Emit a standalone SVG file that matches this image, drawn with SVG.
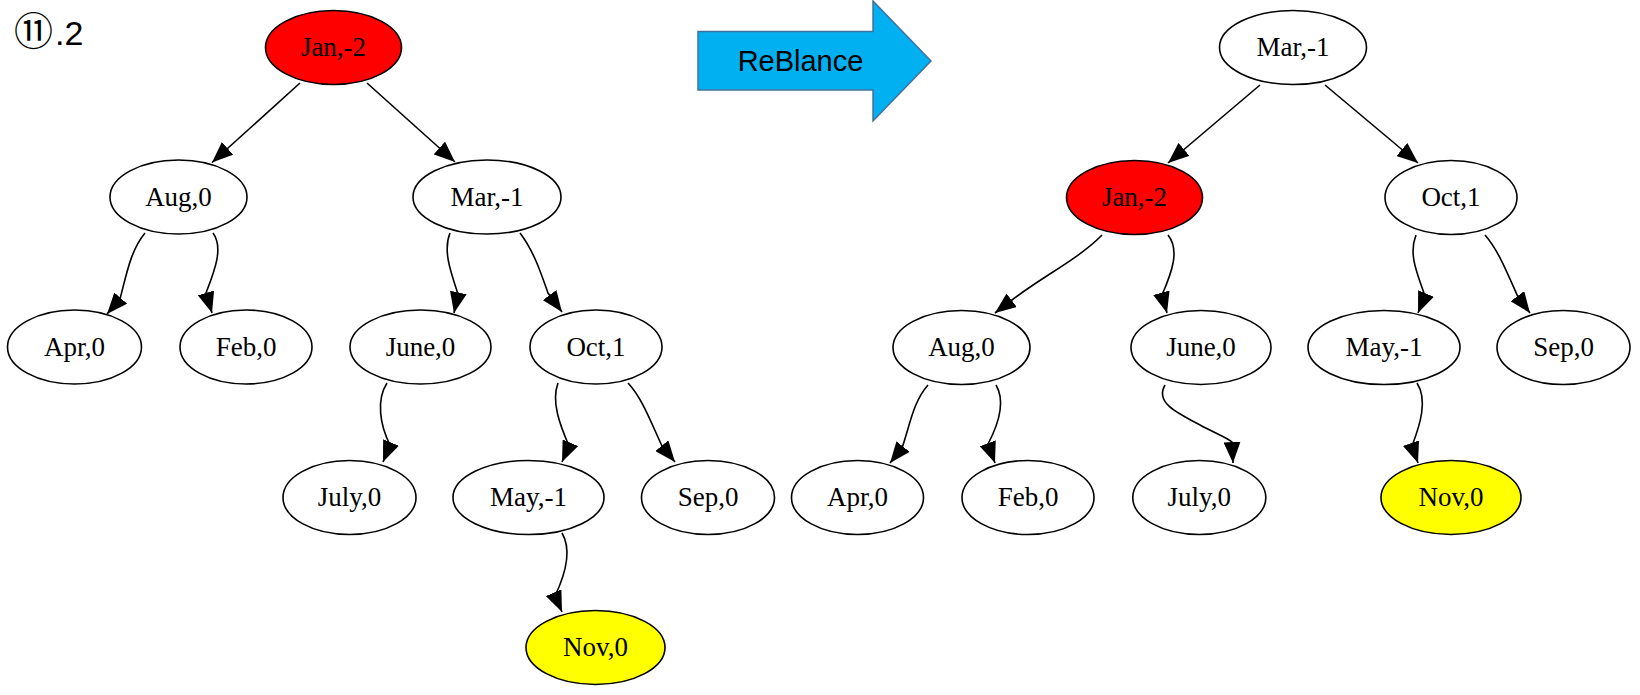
<svg xmlns="http://www.w3.org/2000/svg" width="1640" height="695" viewBox="0 0 1640 695">
<style>
.n ellipse{fill:#fff;stroke:#000;stroke-width:1.6}
.n.red ellipse{fill:#ff0000}
.n.yel ellipse{fill:#ffff00}
.n text{font-family:"Liberation Serif","Times New Roman",serif;font-size:27px;fill:#000;text-anchor:middle}
.e path{fill:none;stroke:#000;stroke-width:1.6;marker-end:url(#ah)}
</style>
<defs>
<marker id="ah" markerUnits="userSpaceOnUse" viewBox="0 0 21 17" markerWidth="21" markerHeight="17" refX="21" refY="8.5" orient="auto">
<path d="M0,0 L21,8.5 L0,17 z" fill="#000"/>
</marker>
</defs>
<rect width="1640" height="695" fill="#fff"/>
<text x="14" y="45" font-family="Liberation Sans, Noto Sans CJK SC, sans-serif" font-size="34" fill="#000"><tspan font-size="39">⑪</tspan><tspan dx="2">.2</tspan></text>
<g id="reblance">
<path d="M698,31.5 L873,31.5 L873,1 L931,61 L873,121 L873,90 L698,90 Z" fill="#00b0f0" stroke="#41719c" stroke-width="1.5"/>
<text x="800.5" y="71" font-family="Liberation Sans, Arial, sans-serif" font-size="29" fill="#000" text-anchor="middle">ReBlance</text>
</g>
<g id="connectors" class="e">
<path d="M300,83 L212,162.5"/>
<path d="M367,83 L455,162"/>
<path d="M145,233 C131,250 127,272 120,299 L107,314"/>
<path d="M213,233 C224,248 214,272 206,293 L212,313"/>
<path d="M450,233 C443,250 450,270 458,294 L454,313"/>
<path d="M520,233 C533,250 540,270 548,293 L562,312"/>
<path d="M387,383 C376,400 380,425 390,445 L383,462"/>
<path d="M558,383 C551,402 560,425 569,446 L562,462"/>
<path d="M628,383 C642,398 650,420 662,446 L675,462"/>
<path d="M562,533 C572,550 565,575 555,596 L562,612"/>
<path d="M1260,85 L1168,163"/>
<path d="M1325,85 L1418,163"/>
<path d="M1102,235 C1080,258 1040,278 1012,300 L995,313"/>
<path d="M1168,235 C1180,250 1172,272 1162,295 L1167,313"/>
<path d="M1416,235 C1408,255 1418,275 1425,296 L1418,313"/>
<path d="M1485,235 C1498,250 1506,270 1518,297 L1530,313"/>
<path d="M928,385 C913,402 910,425 902,448 L890,463"/>
<path d="M996,385 C1006,402 998,425 988,444 L995,463"/>
<path d="M1165,385 C1155,402 1175,412 1200,425 C1215,433 1228,438 1232,442 L1233,463"/>
<path d="M1417,383 C1428,400 1420,425 1412,446 L1418,463"/>
</g>
<g id="L_Jan" class="n red"><ellipse cx="333.5" cy="47.5" rx="68" ry="37"/><text x="333.5" y="56">Jan,-2</text></g>
<g id="L_Aug" class="n"><ellipse cx="178.5" cy="197" rx="68.5" ry="37"/><text x="178.5" y="205.5">Aug,0</text></g>
<g id="L_Mar" class="n"><ellipse cx="487" cy="197" rx="74" ry="37"/><text x="487" y="205.5">Mar,-1</text></g>
<g id="L_Apr" class="n"><ellipse cx="74.5" cy="347" rx="67" ry="37"/><text x="74.5" y="355.5">Apr,0</text></g>
<g id="L_Feb" class="n"><ellipse cx="246" cy="347" rx="66" ry="37"/><text x="246" y="355.5">Feb,0</text></g>
<g id="L_June" class="n"><ellipse cx="420.5" cy="347" rx="70.5" ry="37"/><text x="420.5" y="355.5">June,0</text></g>
<g id="L_Oct" class="n"><ellipse cx="596" cy="347" rx="66" ry="37"/><text x="596" y="355.5">Oct,1</text></g>
<g id="L_July" class="n"><ellipse cx="349.5" cy="497.5" rx="66.5" ry="37"/><text x="349.5" y="506">July,0</text></g>
<g id="L_May" class="n"><ellipse cx="528.5" cy="497.5" rx="75.5" ry="37"/><text x="528.5" y="506">May,-1</text></g>
<g id="L_Sep" class="n"><ellipse cx="708" cy="497.5" rx="66.5" ry="37"/><text x="708" y="506">Sep,0</text></g>
<g id="L_Nov" class="n yel"><ellipse cx="595.5" cy="647.5" rx="69.5" ry="37"/><text x="595.5" y="656">Nov,0</text></g>
<g id="R_Mar" class="n"><ellipse cx="1293" cy="47.5" rx="73.5" ry="37"/><text x="1293" y="56">Mar,-1</text></g>
<g id="R_Jan" class="n red"><ellipse cx="1134.5" cy="197.5" rx="68" ry="37"/><text x="1134.5" y="206">Jan,-2</text></g>
<g id="R_Oct" class="n"><ellipse cx="1451" cy="197.5" rx="66" ry="37"/><text x="1451" y="206">Oct,1</text></g>
<g id="R_Aug" class="n"><ellipse cx="961.5" cy="347.5" rx="68.5" ry="37"/><text x="961.5" y="356">Aug,0</text></g>
<g id="R_June" class="n"><ellipse cx="1201" cy="347.5" rx="70" ry="37"/><text x="1201" y="356">June,0</text></g>
<g id="R_May" class="n"><ellipse cx="1384" cy="347.5" rx="76" ry="37"/><text x="1384" y="356">May,-1</text></g>
<g id="R_Sep" class="n"><ellipse cx="1563.5" cy="347.5" rx="66.5" ry="37"/><text x="1563.5" y="356">Sep,0</text></g>
<g id="R_Apr" class="n"><ellipse cx="857.5" cy="497.5" rx="66" ry="37"/><text x="857.5" y="506">Apr,0</text></g>
<g id="R_Feb" class="n"><ellipse cx="1028" cy="497.5" rx="66" ry="37"/><text x="1028" y="506">Feb,0</text></g>
<g id="R_July" class="n"><ellipse cx="1199.3" cy="497.5" rx="66.5" ry="37"/><text x="1199.3" y="506">July,0</text></g>
<g id="R_Nov" class="n yel"><ellipse cx="1451" cy="497.5" rx="70" ry="37"/><text x="1451" y="506">Nov,0</text></g>
</svg>
